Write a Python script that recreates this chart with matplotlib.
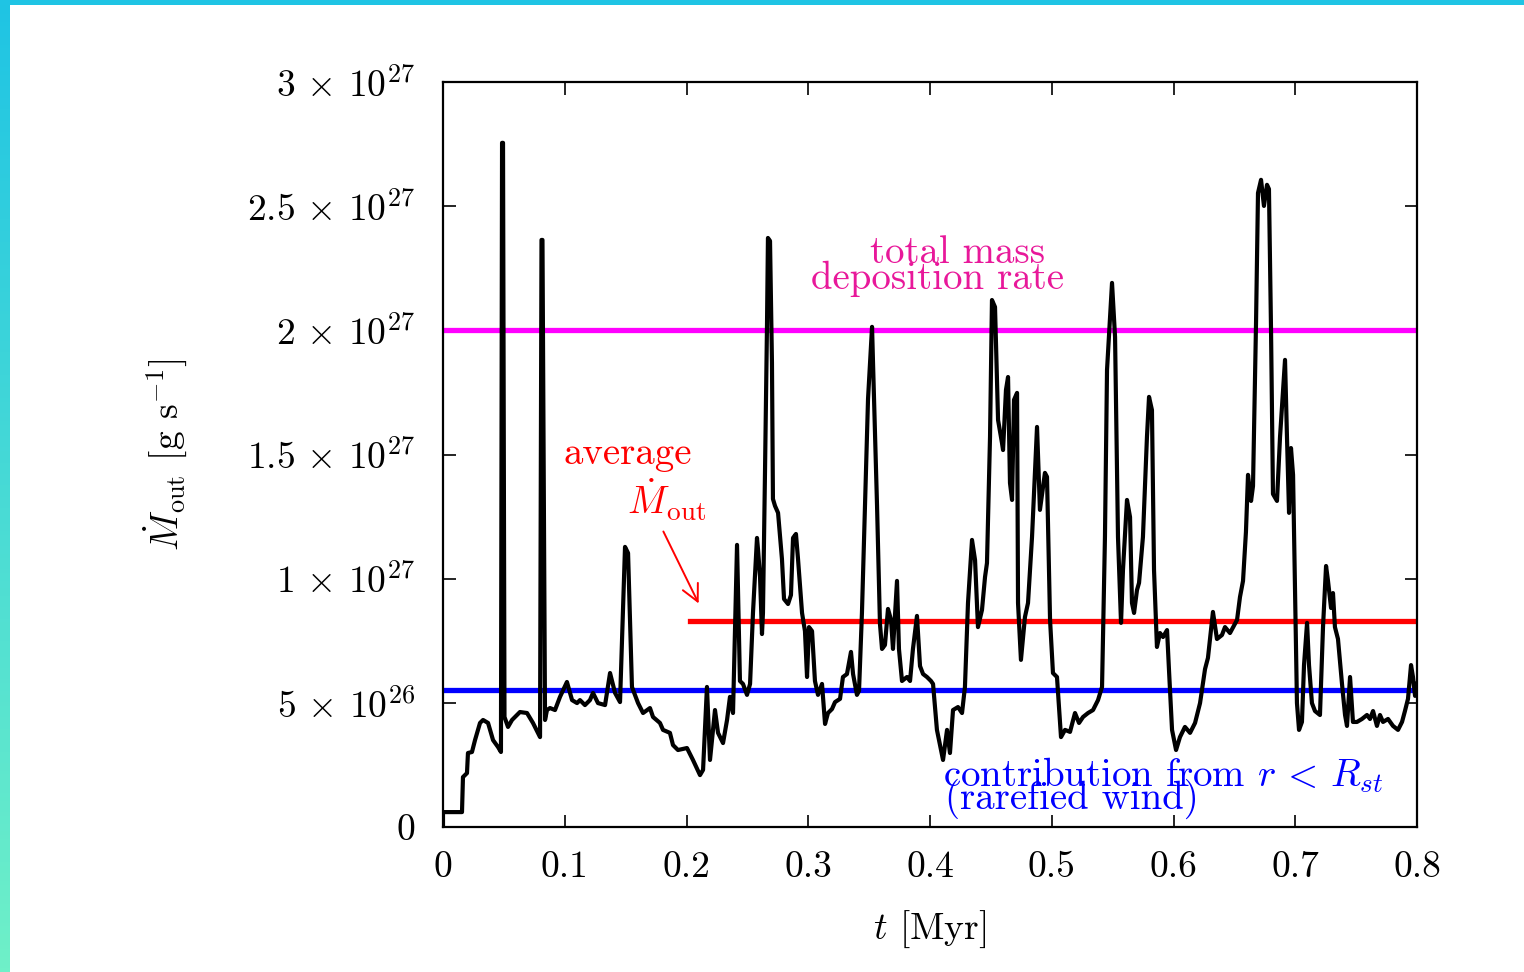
import matplotlib
matplotlib.use("Agg")
import matplotlib.pyplot as plt
import numpy as np
from matplotlib.colors import LinearSegmentedColormap

plt.rcParams['mathtext.fontset'] = 'cm'
plt.rcParams['font.family'] = 'cmr10'
plt.rcParams['axes.unicode_minus'] = False

# outflow rate vs time (units of 1e27 g/s)
t_myr = [0.0, 0.0, 0.0156, 0.0164, 0.0197, 0.0205, 0.0238, 0.0263, 0.0304, 0.0329,
         0.0370, 0.0411, 0.0452, 0.0476, 0.0485, 0.0493, 0.0505, 0.0534, 0.0567, 0.0632,
         0.0690, 0.0739, 0.0780, 0.0797, 0.0809, 0.0817, 0.0838, 0.0854, 0.0879, 0.0920,
         0.0961, 0.1018, 0.1043, 0.1060, 0.1101, 0.1125, 0.1166, 0.1207, 0.1232, 0.1273,
         0.1331, 0.1372, 0.1413, 0.1454, 0.1495, 0.1520, 0.1552, 0.1602, 0.1643, 0.1700,
         0.1725, 0.1782, 0.1807, 0.1864, 0.1889, 0.1930, 0.2004, 0.2053, 0.2111, 0.2136,
         0.2168, 0.2193, 0.2234, 0.2259, 0.2300, 0.2333, 0.2357, 0.2382, 0.2415, 0.2439,
         0.2464, 0.2497, 0.2522, 0.2546, 0.2579, 0.2587, 0.2604, 0.2620, 0.2628, 0.2645,
         0.2661, 0.2669, 0.2686, 0.2702, 0.2710, 0.2727, 0.2752, 0.2784, 0.2801, 0.2834,
         0.2858, 0.2875, 0.2899, 0.2916, 0.2949, 0.2973, 0.2990, 0.3006, 0.3031, 0.3055,
         0.3080, 0.3113, 0.3138, 0.3162, 0.3195, 0.3220, 0.3261, 0.3285, 0.3318, 0.3351,
         0.3368, 0.3400, 0.3417, 0.3441, 0.3466, 0.3491, 0.3524, 0.3532, 0.3565, 0.3589,
         0.3606, 0.3630, 0.3655, 0.3680, 0.3696, 0.3729, 0.3745, 0.3770, 0.3811, 0.3836,
         0.3860, 0.3893, 0.3918, 0.3943, 0.3975, 0.4008, 0.4025, 0.4057, 0.4107, 0.4140,
         0.4164, 0.4189, 0.4230, 0.4263, 0.4287, 0.4312, 0.4345, 0.4370, 0.4394, 0.4427,
         0.4452, 0.4468, 0.4493, 0.4509, 0.4534, 0.4559, 0.4591, 0.4600, 0.4624, 0.4641,
         0.4657, 0.4674, 0.4690, 0.4715, 0.4723, 0.4747, 0.4780, 0.4805, 0.4838, 0.4879,
         0.4903, 0.4944, 0.4961, 0.4986, 0.5010, 0.5043, 0.5076, 0.5109, 0.5150, 0.5191,
         0.5224, 0.5257, 0.5298, 0.5339, 0.5380, 0.5413, 0.5437, 0.5454, 0.5495, 0.5520,
         0.5544, 0.5569, 0.5585, 0.5618, 0.5643, 0.5659, 0.5676, 0.5700, 0.5717, 0.5749,
         0.5782, 0.5799, 0.5823, 0.5840, 0.5864, 0.5889, 0.5914, 0.5947, 0.5963, 0.5988,
         0.6021, 0.6053, 0.6094, 0.6136, 0.6177, 0.6218, 0.6259, 0.6283, 0.6324, 0.6357,
         0.6398, 0.6423, 0.6464, 0.6522, 0.6546, 0.6571, 0.6595, 0.6612, 0.6637, 0.6653,
         0.6678, 0.6694, 0.6719, 0.6743, 0.6768, 0.6784, 0.6801, 0.6817, 0.6850, 0.6875,
         0.6916, 0.6932, 0.6949, 0.6965, 0.6982, 0.6998, 0.7014, 0.7031, 0.7055, 0.7072,
         0.7097, 0.7113, 0.7137, 0.7162, 0.7203, 0.7228, 0.7253, 0.7269, 0.7294, 0.7310,
         0.7326, 0.7351, 0.7384, 0.7409, 0.7425, 0.7450, 0.7474, 0.7507, 0.7548, 0.7589,
         0.7614, 0.7639, 0.7671, 0.7696, 0.7721, 0.7762, 0.7803, 0.7844, 0.7877, 0.7901,
         0.7926, 0.7951, 0.7967, 0.7984, 0.8000]
mdot_out = [0.0, 0.06, 0.06, 0.201, 0.217, 0.298, 0.302, 0.350, 0.419, 0.431,
            0.419, 0.350, 0.322, 0.302, 2.755, 2.755, 0.443, 0.403, 0.431, 0.463,
            0.459, 0.419, 0.379, 0.362, 2.364, 2.364, 0.431, 0.471, 0.479, 0.471,
            0.524, 0.584, 0.540, 0.511, 0.499, 0.511, 0.491, 0.511, 0.540, 0.499,
            0.491, 0.620, 0.540, 0.503, 1.128, 1.103, 0.564, 0.499, 0.459, 0.479,
            0.443, 0.419, 0.391, 0.379, 0.330, 0.310, 0.318, 0.270, 0.209, 0.230,
            0.564, 0.270, 0.471, 0.379, 0.338, 0.431, 0.524, 0.459, 1.136, 0.588,
            0.576, 0.532, 0.576, 0.862, 1.164, 1.120, 1.007, 0.777, 0.862, 1.438,
            2.014, 2.372, 2.360, 1.869, 1.321, 1.293, 1.265, 1.079, 0.918, 0.898,
            0.934, 1.164, 1.180, 1.079, 0.862, 0.789, 0.604, 0.805, 0.789, 0.588,
            0.532, 0.576, 0.415, 0.459, 0.475, 0.503, 0.516, 0.604, 0.616, 0.705,
            0.616, 0.532, 0.548, 0.862, 1.293, 1.724, 2.014, 1.869, 1.293, 0.818,
            0.717, 0.733, 0.878, 0.834, 0.717, 0.991, 0.717, 0.588, 0.604, 0.588,
            0.717, 0.850, 0.648, 0.616, 0.604, 0.588, 0.576, 0.391, 0.270, 0.391,
            0.298, 0.471, 0.483, 0.459, 0.564, 0.902, 1.156, 1.075, 0.805, 0.874,
            1.007, 1.063, 1.571, 2.122, 2.094, 1.639, 1.547, 1.518, 1.760, 1.812,
            1.385, 1.317, 1.720, 1.748, 0.902, 0.673, 0.846, 0.902, 1.168, 1.611,
            1.277, 1.426, 1.410, 0.834, 0.620, 0.604, 0.362, 0.391, 0.383, 0.459,
            0.419, 0.443, 0.459, 0.471, 0.511, 0.564, 1.168, 1.841, 2.191, 1.973,
            1.168, 0.822, 1.035, 1.317, 1.248, 0.902, 0.862, 0.954, 0.983, 1.168,
            1.571, 1.732, 1.679, 1.035, 0.725, 0.781, 0.765, 0.793, 0.632, 0.391,
            0.310, 0.362, 0.403, 0.379, 0.419, 0.499, 0.636, 0.681, 0.866, 0.757,
            0.773, 0.805, 0.781, 0.834, 0.926, 0.991, 1.188, 1.418, 1.313, 1.373,
            2.034, 2.553, 2.606, 2.501, 2.586, 2.569, 2.002, 1.341, 1.313, 1.571,
            1.881, 1.571, 1.265, 1.526, 1.418, 0.958, 0.499, 0.391, 0.423, 0.652,
            0.822, 0.652, 0.499, 0.467, 0.451, 0.805, 1.051, 0.991, 0.882, 0.942,
            0.805, 0.757, 0.576, 0.451, 0.407, 0.604, 0.423, 0.423, 0.435, 0.451,
            0.435, 0.467, 0.407, 0.451, 0.423, 0.435, 0.407, 0.391, 0.423, 0.467,
            0.516, 0.652, 0.604, 0.528, 0.576]

total_deposition = 2.0   # 1e27 g/s
average_mdot = 0.83
average_start = 0.203
inner_contrib = 0.552

x_ticks = [0.0, 0.1, 0.2, 0.3, 0.4, 0.5, 0.6, 0.7, 0.8]
x_labels = ['0', '0.1', '0.2', '0.3', '0.4', '0.5', '0.6', '0.7', '0.8']
y_ticks = [0.0, 0.5, 1.0, 1.5, 2.0, 2.5, 3.0]
y_labels = ['$0$', r'$5\,\times\,10^{26}$', r'$1\,\times\,10^{27}$', r'$1.5\,\times\,10^{27}$',
            r'$2\,\times\,10^{27}$', r'$2.5\,\times\,10^{27}$', r'$3\,\times\,10^{27}$']

scale = 1e27

fig = plt.figure(figsize=(15.24, 9.72), dpi=100)

# decorative frame (top bar + gradient strip on the left)
fig.patches.append(plt.Rectangle((0, 1 - 5 / 972), 1, 5 / 972, transform=fig.transFigure,
                                 facecolor='#1fc4e4', edgecolor='none', zorder=0))
strip = fig.add_axes([0, 0, 10 / 1524, 1])
grad = np.linspace(0, 1, 256).reshape(-1, 1)
cmap = LinearSegmentedColormap.from_list('frame', ['#1fc4e4', '#6ff0c8'])
strip.imshow(grad, aspect='auto', cmap=cmap)
strip.axis('off')

ax = fig.add_axes([443 / 1524, 1 - 827 / 972, 974 / 1524, 745 / 972])

ax.plot(t_myr, np.array(mdot_out) * scale, color='black', lw=3.0, zorder=3)
ax.axhline(total_deposition * scale, color='#ff00ff', lw=3.8, zorder=2)
ax.plot([average_start, 0.8], [average_mdot * scale] * 2, color='#ff0000', lw=3.8, zorder=2)
ax.axhline(inner_contrib * scale, color='#0000ff', lw=3.8, zorder=2)

ax.set_xlim(0, 0.8)
ax.set_ylim(0, 3 * scale)
ax.set_xticks(x_ticks)
ax.set_xticklabels(x_labels)
ax.set_yticks([v * scale for v in y_ticks])
ax.set_yticklabels(y_labels)
ax.tick_params(direction='in', length=9, width=1.2, top=True, right=True, labelsize=27)
ax.tick_params(axis='x', pad=17)
ax.tick_params(axis='y', pad=20)
for s in ax.spines.values():
    s.set_linewidth(1.6)

ax.set_xlabel('$t$ [Myr]', fontsize=27, labelpad=18)
ax.set_ylabel(r'$\dot{M}_{\rm out}$ [g s$^{-1}$]', fontsize=27, labelpad=42)

pink = '#e8189a'
ax.text(0.423, 2.27 * scale, 'total mass', color=pink, fontsize=28, ha='center', va='baseline')
ax.text(0.406, 2.165 * scale, 'deposition rate', color=pink, fontsize=28, ha='center', va='baseline')
ax.text(0.152, 1.46 * scale, 'average', color='#ff0000', fontsize=28, ha='center', va='baseline')
ax.text(0.184, 1.26 * scale, r'$\dot{M}_{\rm out}$', color='#ff0000', fontsize=28,
        ha='center', va='baseline')
ax.annotate('', xy=(0.211, 0.89 * scale), xytext=(0.180, 1.20 * scale),
            arrowprops=dict(arrowstyle='->', color='#ff0000', lw=1.4, mutation_scale=30))
ax.text(0.4107, 0.165 * scale, r'contribution from $r\,<\,R_{st}$', color='#0000ff',
        fontsize=28, ha='left', va='baseline')
ax.text(0.4123, 0.075 * scale, '(rarefied wind)', color='#0000ff', fontsize=28,
        ha='left', va='baseline')

fig.savefig('out.png', dpi=100)
